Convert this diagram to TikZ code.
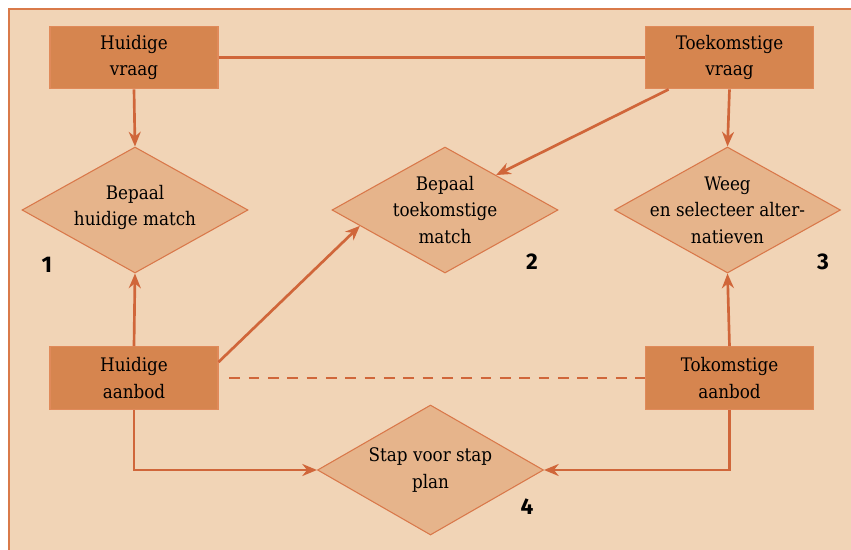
\documentclass[tikz,border=0pt]{standalone}
\usepackage{fontspec}
\setmainfont{DejaVu Serif Condensed}
\newfontfamily\numfont{Fira Sans}
\usepackage{xcolor}
\usetikzlibrary{shapes,arrows.meta,positioning,calc}

\definecolor{bgfill}{HTML}{F1D4B6}
\definecolor{bgline}{HTML}{D97A4A}
\definecolor{boxfill}{HTML}{D6854F}
\definecolor{boxline}{HTML}{E08A5A}
\definecolor{dmfill}{HTML}{E6B48B}
\definecolor{dmline}{HTML}{D9784A}
\definecolor{conn}{HTML}{D0663A}

\begin{document}
\begin{tikzpicture}[
    x=0.75pt, y=-0.75pt,
    box/.style={rectangle, draw=boxline, fill=boxfill, line width=0.8pt, minimum width=126pt, minimum height=47pt, align=center, font=\fontsize{14}{20}\selectfont},
    choice/.style={diamond, draw=dmline, fill=dmfill, line width=0.8pt, minimum width=169.5pt, minimum height=94.5pt, inner sep=0pt},
    txt/.style={align=center, font=\fontsize{14}{20}\selectfont},
    stepnr/.style={font=\numfont\bfseries\fontsize{17}{20}\selectfont},
    link/.style={conn, line width=2pt},
    arrow/.style={-{Stealth[length=11pt, width=9pt]}, conn, line width=2pt}
]

% background
\useasboundingbox (0,0) rectangle (851,550);
\draw[bgline, fill=bgfill, line width=0.8pt] (9,9) rectangle (852,551);

% demand and supply
\node[box] (hv) at (134,57.5) {Huidige\\vraag};
\node[box] (tv) at (729.5,57.5) {Toekomstige\\vraag};
\node[box] (ha) at (134,378) {Huidige\\aanbod};
\node[box] (ta) at (729.5,378) {Tokomstige\\aanbod};

% decisions
\node[choice, label={[txt, yshift=2pt]center:Bepaal\\huidige match}] (d1) at (135,210) {};
\node[choice, label={[txt]center:Bepaal\\toekomstige\\match}] (d2) at (445,210) {};
\node[choice, label={[txt]center:Weeg\\en selecteer alter-\\natieven}] (d3) at (727.5,210) {};
\node[choice, minimum height=97.5pt, label={[txt]center:Stap voor stap\\plan}] (d4) at (430.5,470) {};

% step numbers
\node[stepnr] (n1) at (47,265) {1};
\node[stepnr] (n2) at (532,262) {2};
\node[stepnr] (n3) at (823,262) {3};
\node[stepnr] (n4) at (527,507) {4};

% connectors
\draw[link] (hv.east) -- (tv.west);
\draw[arrow] (hv.south) -- (d1.north);
\draw[arrow] (tv.south) -- (d3.north);
\draw[arrow] (ha.north) -- (d1.south);
\draw[arrow] (ta.north) -- (d3.south);
\draw[arrow] ($(tv.south west)!0.14!(tv.south east)$) -- ($(d2.north)!0.45!(d2.east)$);
\draw[arrow] ($(ha.north east)!0.25!(ha.south east)$) -- ($(d2.west)!0.25!(d2.south)$);
\draw[link, dash pattern=on 8pt off 6.5pt, shorten <=8pt] (ha.east) -- (ta.west);
\draw[arrow] (ha.south) |- (d4.west);
\draw[arrow] (ta.south) |- (d4.east);

\end{tikzpicture}
\end{document}
